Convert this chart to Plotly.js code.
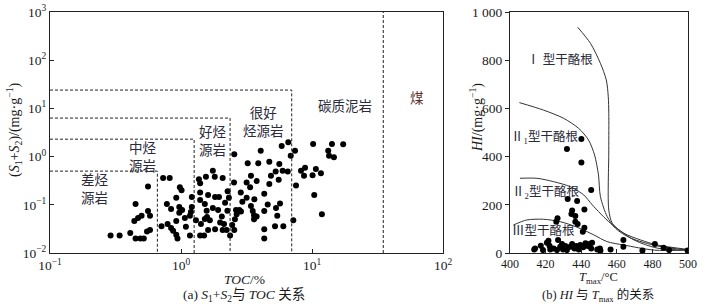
<!DOCTYPE html>
<html>
<head>
<meta charset="utf-8">
<script src="https://cdn.plot.ly/plotly-3.0.1.min.js"></script>
<style>html,body{margin:0;padding:0;background:#fff;}#chart{width:713px;height:304px;}</style>
</head>
<body>
<div id="chart"></div>
<script>
// ---- (a) S1+S2 vs TOC ----
const tocValues = [0.29,0.34,0.41,0.45,0.49,0.52,0.55,0.58,0.44,0.47,
  0.50,0.56,0.58,0.45,0.56,0.73,0.82,0.71,0.79,0.84,
  0.87,0.92,0.94,0.78,0.84,0.98,1.01,0.92,0.97,1.02,
  0.97,0.92,1.07,1.09,1.17,1.19,1.21,1.17,1.21,1.30,
  1.37,1.40,1.55,1.75,1.81,2.08,1.40,1.61,1.82,1.95,
  1.40,1.52,1.57,1.58,1.52,1.66,1.75,1.92,2.05,1.40,
  1.50,1.61,1.82,1.99,2.13,1.42,
  2.55,4.06,5.87,6.59,6.88,7.42,10.2,14.2,17.3,13.3,
  13.5,14.7,3.23,3.89,4.72,5.63,5.28,5.97,6.53,8.24,
  8.85,8.69,10.1,10.7,11.7,3.42,3.78,3.17,4.86,5.57,
  4.72,2.54,3.37,2.86,2.27,7.55,10.4,4.32,3.17,3.63,
  2.94,2.32,2.17,3.42,4.59,5.70,5.31,4.32,3.53,2.79,
  2.63,2.87,2.26,5.43,3.61,3.78,3.61,2.66,2.58,11.9,
  7.20,6.04,5.22,4.32,4.32,2.46,2.55,2.37,2.23,2.08];
const s12Values = [0.023,0.023,0.026,0.020,0.020,0.020,0.028,0.030,0.046,0.053,
  0.059,0.074,0.059,0.104,0.24,0.36,0.36,0.036,0.040,0.033,
  0.029,0.024,0.020,0.104,0.082,0.23,0.20,0.14,0.090,0.078,
  0.068,0.046,0.053,0.035,0.059,0.071,0.090,0.023,0.145,0.048,
  0.34,0.28,0.38,0.51,0.38,0.36,0.18,0.16,0.145,0.145,
  0.126,0.104,0.075,0.056,0.051,0.048,0.086,0.078,0.057,0.023,
  0.023,0.030,0.031,0.043,0.040,0.040,
  1.12,1.33,1.66,1.98,1.04,1.33,1.82,1.82,1.80,1.33,
  1.04,0.97,0.73,0.73,0.78,0.70,0.49,0.51,0.49,0.51,
  0.59,0.40,0.41,0.55,0.45,0.40,0.31,0.29,0.40,0.33,
  0.27,0.29,0.23,0.18,0.19,0.25,0.16,0.17,0.14,0.13,
  0.116,0.14,0.11,0.094,0.102,0.107,0.086,0.074,0.074,0.078,
  0.078,0.073,0.075,0.059,0.061,0.057,0.050,0.064,0.050,0.064,
  0.048,0.036,0.036,0.031,0.020,0.038,0.030,0.023,0.030,0.030];

// source-rock class boundaries (TOC %, S1+S2 mg/g)
const classTOC = [0.66, 1.26, 2.37, 7.0];
const classS12 = [0.5, 2.3, 6.3, 24];
const coalTOC = 35;
const classNames = ['差烃<br>源岩','中烃<br>源岩','好烃<br>源岩','很好<br>烃源岩','碳质泥岩','煤'];
const classLabelTOC = [0.221, 0.513, 1.75, 4.23, 17.9, 63.4];
const classLabelS12 = [0.203, 0.98, 2.06, 4.98, 10.7, 15.7];

const tocTickVals = [0.1, 1, 10, 100];
const tocTickText = ['10<sup>−1</sup>','10<sup>0</sup>','10<sup>1</sup>','10<sup>2</sup>'];
const s12TickVals = [0.01, 0.1, 1, 10, 100, 1000];
const s12TickText = ['10<sup>−2</sup>','10<sup>−1</sup>','10<sup>0</sup>','10<sup>1</sup>','10<sup>2</sup>','10<sup>3</sup>'];

// ---- (b) HI vs Tmax ----
const tmaxValues = [440.1,432.0,440.1,445.6,432.4,437.7,441.8,434.9,434.5,436.7,426.7,426.0,436.7,438.0,441.8,440.9,
  414.1,417.3,418.5,420.7,422.2,422.6,424.5,426.4,428.2,429.2,
  429.8,431.1,432.0,433.9,434.9,436.2,437.3,438.6,439.5,441.1,
  442.4,443.7,444.8,445.6,446.1,450.5,450.8,456.5,463.7,463.7,
  474.4,481.4,486.3,489.4,499.8,421.6,427.0,413.6,449.0];
const hiValues = [473,432,376,261,224,216,181,176,162,154,144,130,130,120,105,88,
  19,30,12,43,30,15,19,12,26,37,
  15,29,12,26,37,19,29,15,33,24,
  40,29,37,19,43,19,10,15,26,54,
  10,37,22,12,10,51,54,15,15];

// kerogen-type boundary curves
const curveI_T  = [438.0,445.2,450.8,454.1,455.2,455.5,455.5,455.5,457.5,464.0,473.4,482.9,499.8];
const curveI_HI = [937,870,787,718,649,580,427,178,123,82,54,33,15];
const curveII1_T  = [405.3,418.8,430.1,438.6,444.1,447.5,449.7,450.8,454.6,459.3,467.8,482.9,499.8];
const curveII1_HI = [624,593,559,517,469,407,324,234,151,102,62,29,12];
const curveII2_T  = [405.6,415.1,424.5,433.9,441.4,446.3,456.5,469.7,482.9,499.8];
const curveII2_HI = [310,310,296,275,241,199,123,54,20,12];
const curveIII_T  = [401.9,409.4,418.8,428.2,437.7,447.1,454.6,464.0,481.0,499.8];
const curveIII_HI = [116,137,140,130,107,75,47,33,12,12];

const typeNames = ['Ⅰ 型干酪根','Ⅱ<sub>1</sub>型干酪根','Ⅱ<sub>2</sub>型干酪根','Ⅲ型干酪根'];
const typeLabelT = [428.2, 419.5, 419.8, 418.9];
const typeLabelHI = [801, 481, 250, 93];

const tmaxTickVals = [400,420,440,460,480,500];
const hiTickVals = [0,200,400,600,800,1000];
const hiTickText = ['0','200','400','600','800','1 000'];

// ---------------------------------------------
const FONT = 'Liberation Serif, "Times New Roman", "Noto Sans CJK SC", serif';
const INK = '#1a1a1a';
const traces = [];

traces.push({type:'scatter', mode:'markers', x:tocValues, y:s12Values, xaxis:'x', yaxis:'y',
  marker:{color:'#000', size:6}, hoverinfo:'skip'});
for (let i = 0; i < classTOC.length; i++) {
  traces.push({type:'scatter', mode:'lines', xaxis:'x', yaxis:'y',
    x:[tocTickVals[0], classTOC[i], classTOC[i]], y:[classS12[i], classS12[i], s12TickVals[0]],
    line:{color:'#222', width:1, dash:'3px,2px'}, hoverinfo:'skip'});
}
traces.push({type:'scatter', mode:'lines', xaxis:'x', yaxis:'y',
  x:[coalTOC, coalTOC], y:[s12TickVals[0], s12TickVals[s12TickVals.length-1]],
  line:{color:'#222', width:1, dash:'3px,2px'}, hoverinfo:'skip'});

const curves = [[curveI_T,curveI_HI],[curveII1_T,curveII1_HI],[curveII2_T,curveII2_HI],[curveIII_T,curveIII_HI]];
curves.forEach(c => traces.push({type:'scatter', mode:'lines', xaxis:'x2', yaxis:'y2',
  x:c[0], y:c[1], line:{color:'#333', width:1, shape:'spline', smoothing:0.8}, hoverinfo:'skip'}));
traces.push({type:'scatter', mode:'markers', x:tmaxValues, y:hiValues, xaxis:'x2', yaxis:'y2',
  marker:{color:'#000', size:6}, hoverinfo:'skip'});

const annotations = [];
classNames.forEach((t, i) => annotations.push({xref:'x', yref:'y',
  x:Math.log10(classLabelTOC[i]), y:Math.log10(classLabelS12[i]), text:t, showarrow:false,
  xanchor:'center', yanchor:'middle',
  font:{family:FONT, size:13.5, color: i === 5 ? '#5e3228' : '#2a2a38'}}));
typeNames.forEach((t, i) => annotations.push({xref:'x2', yref:'y2',
  x:typeLabelT[i], y:typeLabelHI[i], text:t, showarrow:false, xanchor:'center', yanchor:'middle',
  font:{family:FONT, size:12.5, color:'#2a2a38'}}));

// axis titles and captions
function paperText(px, py, text, angle, size) {
  annotations.push({xref:'paper', yref:'paper', x:px/713, y:1-py/304, xanchor:'center', yanchor:'middle',
    textangle:angle || 0, showarrow:false, text:text, font:{family:FONT, size:size || 14, color:INK}});
}
paperText(14, 130, '(<i>S</i><sub>1</sub>+<i>S</i><sub>2</sub>)/(mg·g<sup>−1</sup>)', -90);
paperText(244, 279, '<i>TOC</i>/%', 0, 13.5);
paperText(244, 295, '(a) <i>S</i><sub>1</sub>+<i>S</i><sub>2</sub>与 <i>TOC</i> 关系', 0, 13.5);
paperText(477, 118, '<i>HI</i>/(mg·g<sup>−1</sup>)', -90);
paperText(598, 277.5, '<i>T</i><sub>max</sub>/°C', 0, 12.5);
paperText(598, 295, '(b) <i>HI</i> 与 <i>T</i><sub>max</sub> 的关系', 0, 12.5);

const axCommon = {showline:true, mirror:true, linecolor:'#222', linewidth:1, showgrid:false, zeroline:false,
  tickfont:{family:FONT, size:13.5, color:INK}, ticklen:4, tickcolor:'#222', fixedrange:true};
const yDom = [1-253/304, 1-12/304];

const layout = {
  width:713, height:304, margin:{l:0, r:0, t:0, b:0}, paper_bgcolor:'#fff', plot_bgcolor:'#fff',
  showlegend:false, hovermode:false,
  xaxis: Object.assign({}, axCommon, {domain:[50/713, 443/713], anchor:'y', type:'log', range:[-1,2],
    tickmode:'array', tickvals:tocTickVals, ticktext:tocTickText, ticks:'inside'}),
  yaxis: Object.assign({}, axCommon, {domain:yDom, anchor:'x', type:'log', range:[-2,3],
    tickmode:'array', tickvals:s12TickVals, ticktext:s12TickText, ticks:'inside'}),
  xaxis2: Object.assign({}, axCommon, {domain:[510/713, 688/713], anchor:'y2', range:[400,500],
    tickmode:'array', tickvals:tmaxTickVals, ticks:'inside',
    tickfont:{family:FONT, size:12, color:INK}}),
  yaxis2: Object.assign({}, axCommon, {domain:yDom, anchor:'x2', range:[0,1000],
    tickmode:'array', tickvals:hiTickVals, ticktext:hiTickText, ticks:'outside'}),
  annotations: annotations
};

Plotly.newPlot('chart', traces, layout, {staticPlot:true, displayModeBar:false});
</script>
</body>
</html>
